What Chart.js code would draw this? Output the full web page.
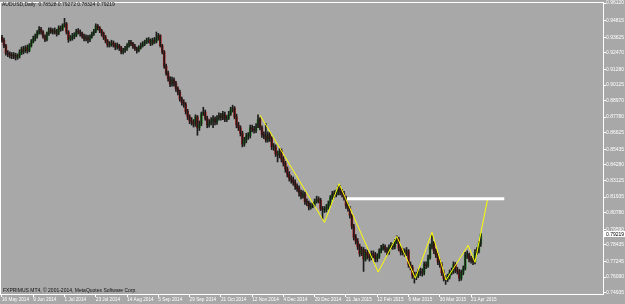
<!DOCTYPE html>
<html>
<head>
<meta charset="utf-8">
<script src="https://cdn.jsdelivr.net/npm/chart.js@4.4.1/dist/chart.umd.min.js"></script>
<style>
  html, body { margin: 0; padding: 0; background: #a8a8a8; }
  canvas { display: block; }
</style>
</head>
<body>
<canvas id="chart" width="625" height="304"></canvas>
<script>
// --- Data: AUDUSD daily bars, 16 May 2014 .. 28 Apr 2015 ---
const opens = [
  .9360,
  .9340,.9300,.9245,.9240,.9230, .9225,.9230,.9215,.9225,.9250,
  .9275,.9260,.9285,.9265,.9300, .9330,.9350,.9370,.9395,.9420,
  .9400,.9370,.9345,.9390,.9415, .9405,.9400,.9410,.9390,.9430,
  .9420,.9445,.9460,.9400,.9345, .9355,.9370,.9375,.9405,.9400,
  .9390,.9370,.9350,.9360,.9345, .9365,.9385,.9405,.9445,.9430,
  .9410,.9390,.9360,.9335,.9305, .9310,.9320,.9310,.9290,.9300,
  .9285,.9255,.9265,.9280,.9300, .9325,.9315,.9295,.9280,.9265,
  .9285,.9300,.9310,.9325,.9340, .9340,.9315,.9340,.9330,.9355,
  .9375,.9300,.9255,.9150,.9100, .9060,.9020,.9050,.9025,.8985,
  .8960,.8910,.8885,.8870,.8820, .8780,.8750,.8740,.8725,.8780,
  .8700,.8730,.8800,.8815,.8770, .8720,.8735,.8750,.8765,.8740,
  .8770,.8790,.8775,.8800,.8760, .8770,.8800,.8830,.8845,.8780,
  .8720,.8700,.8660,.8580,.8610, .8640,.8640,.8700,.8690,.8680,
  .8710,.8760,.8700,.8650,.8640, .8610,.8650,.8620,.8560,.8560,
  .8510,.8500,.8530,.8470,.8440, .8400,.8360,.8330,.8320,.8300,
  .8270,.8255,.8225,.8200,.8215, .8160,.8150,.8120,.8130,.8140,
  .8160,.8175,.8170,.8110,.8100, .8100,.8120,.8145,.8190,.8215,
  .8210,.8225,.8255,.8230,.8215, .8190,.8130,.8110,.8060,.7980,
  .7900,.7870,.7830,.7780,.7810, .7740,.7790,.7760,.7750,.7780,
  .7770,.7740,.7760,.7800,.7820, .7830,.7810,.7790,.7830,.7840,
  .7830,.7870,.7890,.7820,.7790, .7800,.7780,.7800,.7700,.7680,
  .7620,.7610,.7620,.7640,.7650, .7640,.7700,.7690,.7750,.7830,
  .7860,.7800,.7770,.7720,.7700, .7640,.7600,.7590,.7610,.7640,
  .7650,.7700,.7660,.7650,.7600, .7640,.7670,.7770,.7770,.7740,
  .7730,.7720,.7790,.7800,.78528
];
const highs = [
  .9375,
  .9355,.9310,.9265,.9255,.9250, .9250,.9245,.9240,.9270,.9290,
  .9295,.9300,.9305,.9315,.9345, .9370,.9385,.9410,.9440,.9435,
  .9410,.9380,.9400,.9430,.9430, .9425,.9430,.9420,.9445,.9445,
  .9460,.9500,.9470,.9410,.9375, .9390,.9395,.9420,.9425,.9415,
  .9400,.9385,.9380,.9375,.9380, .9400,.9420,.9460,.9455,.9440,
  .9420,.9400,.9375,.9345,.9330, .9340,.9335,.9320,.9320,.9310,
  .9295,.9280,.9295,.9315,.9340, .9340,.9325,.9310,.9290,.9300,
  .9320,.9330,.9340,.9355,.9360, .9350,.9355,.9360,.9400,.9390,
  .9380,.9310,.9265,.9165,.9115, .9075,.9070,.9065,.9040,.9000,
  .8975,.8925,.8905,.8885,.8835, .8795,.8775,.8760,.8795,.8790,
  .8750,.8815,.8850,.8830,.8785, .8760,.8775,.8790,.8780,.8790,
  .8810,.8805,.8820,.8815,.8790, .8820,.8850,.8865,.8855,.8800,
  .8740,.8715,.8675,.8630,.8660, .8665,.8720,.8720,.8710,.8730,
  .8795,.8775,.8715,.8670,.8730, .8670,.8665,.8635,.8585,.8575,
  .8530,.8550,.8545,.8490,.8455, .8415,.8380,.8350,.8340,.8320,
  .8290,.8275,.8245,.8240,.8230, .8180,.8165,.8150,.8155,.8180,
  .8200,.8195,.8185,.8125,.8125, .8140,.8165,.8205,.8235,.8240,
  .8245,.8275,.8280,.8250,.8235, .8200,.8150,.8125,.8070,.7995,
  .7920,.7890,.7850,.7830,.7825, .7810,.7805,.7780,.7800,.7800,
  .7790,.7780,.7815,.7840,.7850, .7845,.7825,.7845,.7860,.7855,
  .7885,.7910,.7900,.7835,.7820, .7815,.7825,.7810,.7720,.7695,
  .7645,.7645,.7665,.7675,.7670, .7720,.7720,.7770,.7850,.7920,
  .7870,.7815,.7785,.7740,.7715, .7660,.7620,.7630,.7660,.7675,
  .7720,.7715,.7680,.7665,.7660, .7690,.7790,.7800,.7785,.7760,
  .7750,.7810,.7825,.7870,.79272
];
const lows = [
  .9325,
  .9285,.9230,.9220,.9210,.9205, .9205,.9195,.9200,.9210,.9235,
  .9240,.9250,.9245,.9255,.9290, .9320,.9335,.9355,.9385,.9385,
  .9355,.9330,.9335,.9375,.9390, .9385,.9385,.9370,.9380,.9405,
  .9410,.9435,.9385,.9325,.9335, .9340,.9350,.9365,.9385,.9370,
  .9355,.9335,.9335,.9320,.9330, .9355,.9375,.9395,.9415,.9395,
  .9370,.9345,.9320,.9290,.9290, .9295,.9290,.9270,.9275,.9265,
  .9240,.9240,.9250,.9265,.9290, .9300,.9280,.9265,.9245,.9255,
  .9275,.9290,.9300,.9315,.9320, .9300,.9305,.9315,.9320,.9340,
  .9290,.9240,.9135,.9085,.9040, .9000,.9005,.9005,.8965,.8940,
  .8895,.8865,.8850,.8800,.8760, .8730,.8720,.8705,.8710,.8645,
  .8680,.8715,.8790,.8755,.8700, .8705,.8720,.8700,.8720,.8725,
  .8755,.8755,.8760,.8745,.8745, .8760,.8790,.8815,.8765,.8700,
  .8680,.8640,.8560,.8565,.8590, .8615,.8625,.8670,.8660,.8665,
  .8700,.8685,.8630,.8620,.8595, .8595,.8600,.8540,.8535,.8490,
  .8450,.8480,.8450,.8420,.8375, .8340,.8310,.8295,.8280,.8250,
  .8235,.8200,.8180,.8185,.8140, .8130,.8100,.8105,.8115,.8125,
  .8150,.8150,.8095,.8035,.8080, .8085,.8105,.8130,.8175,.8190,
  .8195,.8210,.8210,.8195,.8170, .8110,.8090,.8040,.7960,.7880,
  .7850,.7810,.7760,.7765,.7650, .7725,.7740,.7725,.7735,.7750,
  .7720,.7720,.7745,.7785,.7805, .7790,.7770,.7775,.7815,.7810,
  .7815,.7855,.7800,.7770,.7770, .7760,.7765,.7680,.7660,.7600,
  .7565,.7590,.7605,.7620,.7615, .7625,.7670,.7680,.7740,.7815,
  .7780,.7750,.7700,.7680,.7620, .7580,.7555,.7575,.7595,.7625,
  .7635,.7640,.7630,.7580,.7585, .7625,.7660,.7745,.7720,.7710,
  .7700,.7705,.7775,.7785,.78324
];
const closes = [
  .9340,
  .9300,.9245,.9240,.9230,.9225, .9230,.9215,.9225,.9250,.9275,
  .9260,.9285,.9265,.9300,.9330, .9350,.9370,.9395,.9420,.9400,
  .9370,.9345,.9390,.9415,.9405, .9400,.9410,.9390,.9430,.9420,
  .9445,.9460,.9400,.9345,.9355, .9370,.9375,.9405,.9400,.9390,
  .9370,.9350,.9360,.9345,.9365, .9385,.9405,.9445,.9430,.9410,
  .9390,.9360,.9335,.9305,.9310, .9320,.9310,.9290,.9300,.9285,
  .9255,.9265,.9280,.9300,.9325, .9315,.9295,.9280,.9265,.9285,
  .9300,.9310,.9325,.9340,.9340, .9315,.9340,.9330,.9355,.9375,
  .9300,.9255,.9150,.9100,.9060, .9020,.9050,.9025,.8985,.8960,
  .8910,.8885,.8870,.8820,.8780, .8750,.8740,.8725,.8780,.8700,
  .8730,.8800,.8815,.8770,.8720, .8735,.8750,.8765,.8740,.8770,
  .8790,.8775,.8800,.8760,.8770, .8800,.8830,.8845,.8780,.8720,
  .8700,.8660,.8580,.8610,.8640, .8640,.8700,.8690,.8680,.8710,
  .8760,.8700,.8650,.8640,.8610, .8650,.8620,.8560,.8560,.8510,
  .8500,.8530,.8470,.8440,.8400, .8360,.8330,.8320,.8300,.8270,
  .8255,.8225,.8200,.8215,.8160, .8150,.8120,.8130,.8140,.8160,
  .8175,.8170,.8110,.8100,.8100, .8120,.8145,.8190,.8215,.8210,
  .8225,.8255,.8230,.8215,.8190, .8130,.8110,.8060,.7980,.7900,
  .7870,.7830,.7780,.7810,.7740, .7790,.7760,.7750,.7780,.7770,
  .7740,.7760,.7800,.7820,.7830, .7810,.7790,.7830,.7840,.7830,
  .7870,.7890,.7820,.7790,.7800, .7780,.7800,.7700,.7680,.7620,
  .7610,.7620,.7640,.7650,.7640, .7700,.7690,.7750,.7830,.7860,
  .7800,.7770,.7720,.7700,.7640, .7600,.7590,.7610,.7640,.7650,
  .7700,.7660,.7650,.7600,.7640, .7670,.7770,.7770,.7740,.7730,
  .7720,.7790,.7800,.78528,.79219
];

// date axis: one label every 16 bars
const dateTicks = [0, 16, 32, 48, 64, 80, 96, 112, 128, 144, 160, 176, 192, 208, 224, 240];
const dateLabels = [
  "16 May 2014", "9 Jun 2014", "1 Jul 2014", "23 Jul 2014", "14 Aug 2014",
  "5 Sep 2014", "29 Sep 2014", "21 Oct 2014", "12 Nov 2014", "4 Dec 2014",
  "29 Dec 2014", "21 Jan 2015", "12 Feb 2015", "6 Mar 2015", "30 Mar 2015", "21 Apr 2015"
];
const priceTicks = [
  0.96120, 0.94815, 0.93625, 0.92470, 0.91280, 0.90125, 0.88970, 0.87780, 0.86625,
  0.85435, 0.84280, 0.83125, 0.81935, 0.80780, 0.79590, 0.78435, 0.77245, 0.76090, 0.74935
];

// hand-drawn yellow zigzag and white level
const zigzagBars = [132, 165, 172.5, 192.5, 202, 211.5, 220, 227.2, 238.5, 242, 248.5];
const zigzagPrices = [0.8792, 0.8008, 0.8291, 0.7645, 0.7906, 0.7601, 0.7935, 0.7587, 0.7841, 0.7717, 0.8182];
const levelBars = [176.5, 257];
const levelPrice = 0.8182;

const titleText = "AUDUSD,Daily  0.78528 0.79272 0.78324 0.79219";
const footerText = "FXPRIMUS MT4, \u00a9 2001-2014, MetaQuotes Software Corp.";

// --- Colors ---
const BULL = "#1d9a1d";
const BEAR = "#c41414";
const WICK = "#1c1c1c";
const FG = "#ffffff";
const FONT = "'Liberation Sans', Arial, sans-serif";

const bodies = opens.map((o, i) => ({ x: i, y: [o, closes[i]] }));
const wicks = lows.map((l, i) => ({ x: i, y: [l, highs[i]] }));
const bodyColors = opens.map((o, i) => (closes[i] >= o ? BULL : BEAR));

// frame, header text, footer text and the last-price box
const overlay = {
  id: "overlay",
  afterDraw(chart) {
    const { ctx, chartArea } = chart;
    const yScale = chart.scales.y;
    ctx.save();
    ctx.strokeStyle = FG;
    ctx.lineWidth = 1;
    ctx.strokeRect(chartArea.left - 0.5, chartArea.top - 0.5, chartArea.width + 1, chartArea.height + 1);

    ctx.font = "5px " + FONT;
    ctx.fillStyle = "#111";
    ctx.textBaseline = "middle";
    ctx.textAlign = "left";
    ctx.fillText(titleText, 2, 5);
    ctx.fillText(footerText, 3, 291);

    const last = closes[closes.length - 1];
    const py = Math.round(yScale.getPixelForValue(last));
    ctx.fillStyle = FG;
    ctx.fillRect(chartArea.right + 1, py - 3, 22, 6);
    ctx.fillStyle = "#000";
    ctx.fillText(last.toFixed(5), chartArea.right + 3, py + 0.5);
    ctx.restore();
  }
};

new Chart(document.getElementById("chart"), {
  data: {
    datasets: [
      {
        type: "line",
        data: levelBars.map((b) => ({ x: b, y: levelPrice })),
        borderColor: FG,
        borderWidth: 3,
        pointRadius: 0,
        order: 0
      },
      {
        type: "line",
        data: zigzagBars.map((b, i) => ({ x: b, y: zigzagPrices[i] })),
        borderColor: "#ffff00",
        borderWidth: 1,
        pointRadius: 0,
        order: 0
      },
      {
        type: "bar",
        data: wicks,
        backgroundColor: WICK,
        barThickness: 1,
        grouped: false,
        order: 1
      },
      {
        type: "bar",
        data: bodies,
        backgroundColor: bodyColors,
        barThickness: 1.9,
        minBarLength: 1,
        grouped: false,
        order: 2
      }
    ]
  },
  options: {
    responsive: false,
    animation: false,
    layout: { padding: { left: 1, top: 1, right: 0, bottom: 0 } },
    plugins: { legend: { display: false }, tooltip: { enabled: false } },
    scales: {
      x: {
        type: "linear",
        offset: false,
        min: -0.5,
        max: 307.5,
        afterBuildTicks: (scale) => { scale.ticks = dateTicks.map((v) => ({ value: v })); },
        afterFit: (scale) => { scale.height = 10; },
        ticks: {
          autoSkip: false,
          maxRotation: 0,
          align: "start",
          padding: 0,
          color: FG,
          font: { family: FONT, size: 4.7 },
          callback: (v) => dateLabels[dateTicks.indexOf(v)]
        },
        grid: { drawOnChartArea: false, tickLength: 3, color: FG, offset: false },
        border: { display: true, color: FG }
      },
      y: {
        type: "linear",
        position: "right",
        min: 0.7485,
        max: 0.9612,
        afterBuildTicks: (scale) => { scale.ticks = priceTicks.map((v) => ({ value: v })); },
        afterFit: (scale) => { scale.width = 22; },
        ticks: {
          padding: 0,
          color: FG,
          font: { family: FONT, size: 5 },
          callback: (v) => v.toFixed(5)
        },
        grid: { drawOnChartArea: false, tickLength: 3, color: FG },
        border: { display: true, color: FG }
      }
    }
  },
  plugins: [overlay]
});
</script>
</body>
</html>
